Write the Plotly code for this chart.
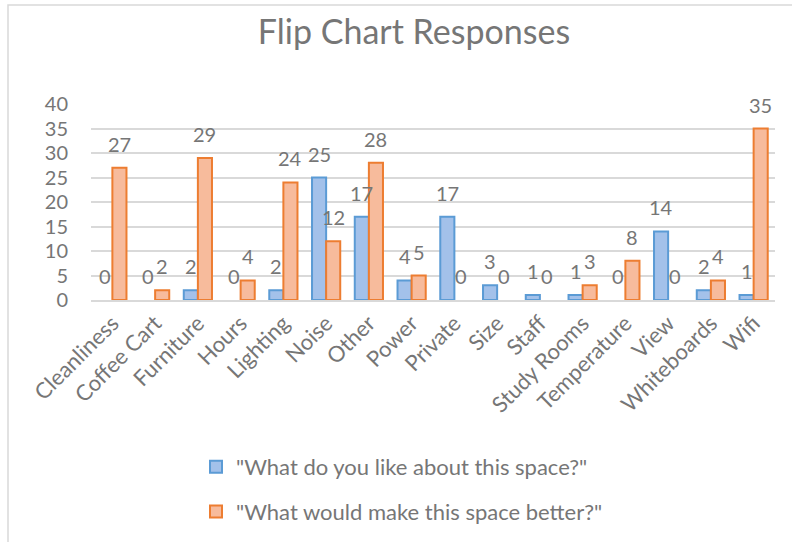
import plotly.graph_objects as go

categories = ["Cleanliness", "Coffee Cart", "Furniture", "Hours", "Lighting", "Noise",
              "Other", "Power", "Private", "Size", "Staff", "Study Rooms",
              "Temperature", "View", "Whiteboards", "Wifi"]
like_values = [0, 0, 2, 0, 2, 25, 17, 4, 17, 3, 1, 1, 0, 14, 2, 1]
better_values = [27, 2, 29, 4, 24, 12, 28, 5, 0, 0, 0, 3, 8, 0, 4, 35]
series_names = ['"What do you like about this space?"',
                '"What would make this space better?"']
y_ticks = [0, 5, 10, 15, 20, 25, 30, 35, 40]

FONT = "Lato, 'Open Sans', sans-serif"
GRAY = "#767676"

# plot area geometry in pixels
W, H = 792, 542
L, R, T, B = 91, 17, 104, 242
PW = W - L - R
PH = H - T - B
BARGAP = 0.34
bar_px = PW / len(categories) * (1 - BARGAP) / 2


def bar_trace(values, name, group, fill, edge):
    # points are fed largest first (the axis keeps the category order), so the
    # legend swatch takes its outline from a non-empty bar; empty bars get no outline
    order = sorted(range(len(values)), key=lambda i: -values[i])
    xs = [categories[i] for i in order]
    ys = [values[i] for i in order]
    return go.Bar(
        x=xs, y=ys, name=name, legendgroup=group,
        marker=dict(color=fill,
                    line=dict(color=edge, width=[0 if v == 0 else 2 for v in ys])),
        cliponaxis=False,
    )


fig = go.Figure()
fig.add_trace(bar_trace(like_values, series_names[0], "a", "#a3c1ea", "#5b9bd5"))
fig.add_trace(bar_trace(better_values, series_names[1], "b", "#f7bb9c", "#ed7d31"))

# value labels above each bar
annotations = []
for values, shift in ((like_values, -bar_px / 2), (better_values, bar_px / 2)):
    for cat, v in zip(categories, values):
        annotations.append(dict(
            x=cat, y=v, xref="x", yref="y", text=str(v), showarrow=False,
            xanchor="center", yanchor="bottom", xshift=shift, yshift=10,
            font=dict(size=20, color=GRAY, family=FONT),
        ))

fig.update_layout(
    width=W, height=H,
    margin=dict(l=L, r=R, t=T, b=B, autoexpand=False),
    paper_bgcolor="white", plot_bgcolor="white",
    font=dict(family=FONT, color=GRAY),
    title=dict(text="Flip Chart Responses", x=414 / W, xanchor="center",
               y=1 - 32 / H, yanchor="middle",
               font=dict(size=34, color=GRAY, family=FONT)),
    barmode="group", bargap=BARGAP, bargroupgap=0.0,
    showlegend=True,
    legend=dict(x=(196 - L) / PW, xanchor="left", y=(T + PH - 446) / PH, yanchor="top",
                font=dict(size=22, color=GRAY, family=FONT),
                tracegroupgap=13, itemwidth=30, bgcolor="rgba(0,0,0,0)"),
    annotations=annotations,
    shapes=[dict(type="rect", xref="paper", yref="paper",
                 x0=(8 - L) / PW, x1=1.2, y0=-1.5, y1=(T + PH - 5) / PH,
                 line=dict(color="#d9d9d9", width=1.5), layer="below")],
)
fig.update_xaxes(
    categoryorder="array", categoryarray=categories,
    tickangle=-45, tickfont=dict(size=22, color=GRAY, family=FONT),
    showline=True, linecolor="#d9d9d9", linewidth=1.5, ticks="",
    showgrid=False, automargin=False,
)
fig.update_yaxes(
    range=[0, 40], tickvals=y_ticks, tickfont=dict(size=20, color=GRAY, family=FONT),
    showgrid=True, gridcolor="#d9d9d9", gridwidth=1.5, zeroline=False,
    ticks="", ticklabelstandoff=22, automargin=False,
)

fig.write_html("out.html")
